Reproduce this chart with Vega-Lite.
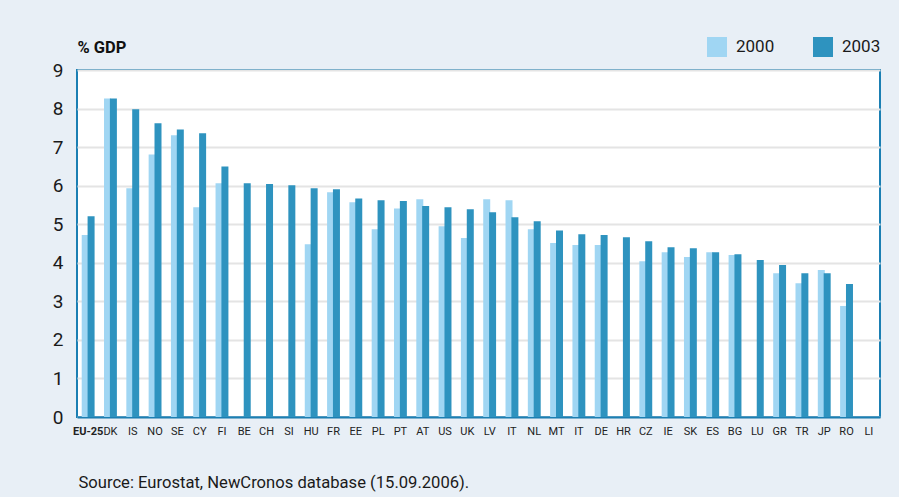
{
  "$schema": "https://vega.github.io/schema/vega-lite/v6.json",
  "autosize": "none",
  "width": 803,
  "height": 347,
  "padding": {"left": 77, "top": 70, "right": 19, "bottom": 80},
  "background": "#e8eff6",
  "data": {"values": [
    {"c":"EU-25","y":"2000","v":4.72},{"c":"EU-25","y":"2003","v":5.21},
    {"c":"DK","y":"2000","v":8.26},{"c":"DK","y":"2003","v":8.26},
    {"c":"IS","y":"2000","v":5.93},{"c":"IS","y":"2003","v":7.98},
    {"c":"NO","y":"2000","v":6.81},{"c":"NO","y":"2003","v":7.62},
    {"c":"SE","y":"2000","v":7.31},{"c":"SE","y":"2003","v":7.46},
    {"c":"CY","y":"2000","v":5.44},{"c":"CY","y":"2003","v":7.36},
    {"c":"FI","y":"2000","v":6.06},{"c":"FI","y":"2003","v":6.5},
    {"c":"BE","y":"2003","v":6.06},
    {"c":"CH","y":"2003","v":6.04},
    {"c":"SI","y":"2003","v":6.01},
    {"c":"HU","y":"2000","v":4.48},{"c":"HU","y":"2003","v":5.93},
    {"c":"FR","y":"2000","v":5.83},{"c":"FR","y":"2003","v":5.91},
    {"c":"EE","y":"2000","v":5.57},{"c":"EE","y":"2003","v":5.67},
    {"c":"PL","y":"2000","v":4.87},{"c":"PL","y":"2003","v":5.62},
    {"c":"PT","y":"2000","v":5.41},{"c":"PT","y":"2003","v":5.6},
    {"c":"AT","y":"2000","v":5.65},{"c":"AT","y":"2003","v":5.47},
    {"c":"US","y":"2000","v":4.95},{"c":"US","y":"2003","v":5.44},
    {"c":"UK","y":"2000","v":4.64},{"c":"UK","y":"2003","v":5.39},
    {"c":"LV","y":"2000","v":5.65},{"c":"LV","y":"2003","v":5.31},
    {"c":"IT","y":"2000","v":5.62},{"c":"IT","y":"2003","v":5.18},
    {"c":"NL","y":"2000","v":4.87},{"c":"NL","y":"2003","v":5.08},
    {"c":"MT","y":"2000","v":4.51},{"c":"MT","y":"2003","v":4.84},
    {"c":"IT2","y":"2000","v":4.46},{"c":"IT2","y":"2003","v":4.74},
    {"c":"DE","y":"2000","v":4.46},{"c":"DE","y":"2003","v":4.72},
    {"c":"HR","y":"2003","v":4.66},
    {"c":"CZ","y":"2000","v":4.04},{"c":"CZ","y":"2003","v":4.56},
    {"c":"IE","y":"2000","v":4.27},{"c":"IE","y":"2003","v":4.4},
    {"c":"SK","y":"2000","v":4.15},{"c":"SK","y":"2003","v":4.38},
    {"c":"ES","y":"2000","v":4.27},{"c":"ES","y":"2003","v":4.27},
    {"c":"BG","y":"2000","v":4.2},{"c":"BG","y":"2003","v":4.22},
    {"c":"LU","y":"2003","v":4.07},
    {"c":"GR","y":"2000","v":3.73},{"c":"GR","y":"2003","v":3.94},
    {"c":"TR","y":"2000","v":3.47},{"c":"TR","y":"2003","v":3.73},
    {"c":"JP","y":"2000","v":3.81},{"c":"JP","y":"2003","v":3.73},
    {"c":"RO","y":"2000","v":2.88},{"c":"RO","y":"2003","v":3.45}
  ]},
  "mark": {"type": "bar", "width": 7},
  "encoding": {
    "x": {
      "field": "c", "type": "nominal", "sort": null,
      "scale": {"paddingInner": 0, "paddingOuter": 0,
        "domain": ["EU-25","DK","IS","NO","SE","CY","FI","BE","CH","SI","HU","FR","EE","PL","PT","AT","US","UK","LV","IT","NL","MT","IT2","DE","HR","CZ","IE","SK","ES","BG","LU","GR","TR","JP","RO","LI"]},
      "axis": {
        "title": "Source: Eurostat, NewCronos database (15.09.2006).",
        "titleFont": "Roboto", "titleFontSize": 16.6, "titleFontWeight": "normal", "titleColor": "#1a1a1a",
        "titleAnchor": "start", "titleAlign": "left", "titleX": 1, "titleY": 70, "titleBaseline": "alphabetic",
        "labelAngle": 0, "labelFont": "Roboto", "labelFontSize": 11, "labelColor": "#222222",
        "labelFontWeight": {"condition": {"test": "datum.value == 'EU-25'", "value": "bold"}, "value": "normal"},
        "labelExpr": "datum.value == 'IT2' ? 'IT' : datum.value",
        "labelPadding": 8, "labelOverlap": false, "ticks": false, "domain": true, "domainColor": "#1b7fb3", "domainWidth": 2
      }
    },
    "xOffset": {"field": "y", "type": "nominal", "scale": {"domain": ["2000", "2003"], "paddingInner": 0, "paddingOuter": 0.9}},
    "y": {
      "field": "v", "type": "quantitative",
      "scale": {"domain": [0, 9], "nice": false},
      "axis": {
        "values": [0,1,2,3,4,5,6,7,8,9],
        "title": "% GDP", "titleAngle": 0, "titleX": 0, "titleY": -18, "titleAlign": "left", "titleBaseline": "alphabetic",
        "titleFont": "Roboto", "titleFontSize": 16.5, "titleFontWeight": "bold", "titleColor": "#111111",
        "labelFont": "Roboto", "labelFontSize": 19, "labelColor": "#1a1a1a", "labelPadding": 14,
        "ticks": false, "domain": false,
        "grid": true, "gridColor": "#e4e4e4", "gridWidth": 2
      }
    },
    "color": {
      "field": "y", "type": "nominal",
      "scale": {"domain": ["2000", "2003"], "range": ["#a0d6f3", "#2e93bf"]},
      "legend": {
        "title": null, "orient": "none", "legendX": 630, "legendY": -33, "direction": "horizontal",
        "symbolType": "square", "symbolSize": 400, "symbolStrokeWidth": 0, "symbolOpacity": 1,
        "labelFont": "Roboto", "labelFontSize": 17, "labelColor": "#1a1a1a", "labelOffset": 9,
        "columnPadding": 38
      }
    }
  },
  "config": {
    "view": {"stroke": "#1b7fb3", "strokeWidth": 2, "fill": "#ffffff"}
  }
}
